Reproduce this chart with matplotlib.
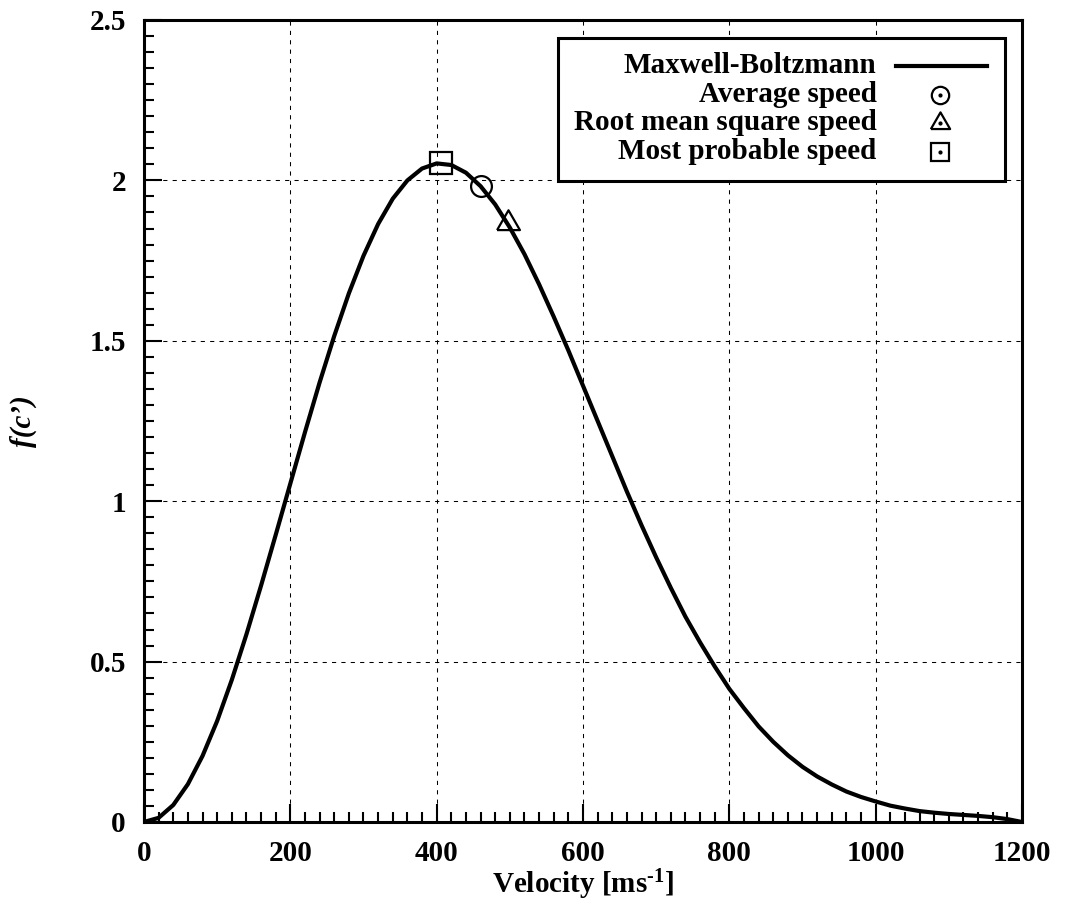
# Maxwell-Boltzmann speed distribution with characteristic speeds marked

import numpy as np
import matplotlib.pyplot as plt
from matplotlib.ticker import MultipleLocator, FuncFormatter
from matplotlib.patches import Rectangle
from matplotlib.lines import Line2D

plt.rcParams['font.family'] = ['Liberation Serif', 'DejaVu Serif']
plt.rcParams['font.weight'] = 'bold'
plt.rcParams['mathtext.fontset'] = 'custom'
plt.rcParams['mathtext.rm'] = 'Liberation Serif:bold'
plt.rcParams['mathtext.bf'] = 'Liberation Serif:bold'
plt.rcParams['mathtext.default'] = 'bf'

# curve (velocity in m/s, f(c') x 1e3)
velocity = [0, 20, 40, 60, 80, 100, 120, 140, 160, 180, 200, 220, 240, 260,
            280, 300, 320, 340, 360, 380, 400, 420, 440, 460, 480, 500, 520,
            540, 560, 580, 600, 620, 640, 660, 680, 700, 720, 740, 760, 780,
            800, 820, 840, 860, 880, 900, 920, 940, 960, 980, 1000, 1020,
            1040, 1060, 1080, 1100, 1120, 1140, 1160, 1180, 1200]
f_c = [0.0, 0.013, 0.053, 0.118, 0.206, 0.315, 0.443, 0.585, 0.737, 0.895,
       1.055, 1.215, 1.37, 1.515, 1.648, 1.765, 1.864, 1.943, 2.0, 2.037,
       2.053, 2.048, 2.024, 1.982, 1.925, 1.853, 1.77, 1.676, 1.575, 1.47,
       1.36, 1.25, 1.14, 1.03, 0.925, 0.825, 0.73, 0.64, 0.56, 0.485, 0.415,
       0.355, 0.298, 0.25, 0.208, 0.172, 0.142, 0.117, 0.095, 0.078, 0.064,
       0.051, 0.042, 0.034, 0.029, 0.025, 0.022, 0.019, 0.015, 0.009, 0.0]

# characteristic speeds
avg_speed = [460]
avg_f = [1.982]
rms_speed = [497]
rms_f = [1.868]
mp_speed = [406]
mp_f = [2.053]

fig = plt.figure(figsize=(10.65, 9.15), dpi=100)
ax = fig.add_axes([144 / 1065, 1 - 822 / 915, 878 / 1065, 802 / 915])

ax.plot(velocity, f_c, color='black', lw=3, zorder=3,
        solid_joinstyle='round', solid_capstyle='round')

tri = [(-1, -0.577), (1, -0.577), (0, 1.155), (-1, -0.577)]
mk = dict(color='black', mfc='none', mew=1.6, ls='none', zorder=4)
ax.plot(avg_speed, avg_f, marker='o', ms=15, **mk)
ax.plot(rms_speed, rms_f, marker=tri, ms=19, **mk)
ax.plot(mp_speed, mp_f, marker='s', ms=15.5, **mk)

ax.set_xlim(0, 1200)
ax.set_ylim(0, 2.5)
ax.xaxis.set_major_locator(MultipleLocator(200))
ax.xaxis.set_minor_locator(MultipleLocator(20))
ax.yaxis.set_major_locator(MultipleLocator(0.5))
ax.yaxis.set_minor_locator(MultipleLocator(0.05))
ax.yaxis.set_major_formatter(FuncFormatter(lambda v, p: '%g' % v))
ax.tick_params(which='major', direction='in', length=13, width=1.5,
               labelsize=21, pad=13, top=False, right=False)
ax.tick_params(which='minor', direction='in', length=7, width=1.5,
               top=False, right=False)
for s in ax.spines.values():
    s.set_linewidth(2.2)

ax.grid(True, which='major', color='black', lw=0.75, ls=(0, (4, 5)))
ax.set_axisbelow(True)

ax.set_xlabel('Velocity [ms$^{\\text{-1}}$]', fontsize=21, fontweight='bold', labelpad=0)
ax.set_ylabel('f(c\u2019)', fontsize=21, fontweight='bold', fontstyle='italic', labelpad=38)

# legend drawn by hand so labels are right-aligned like gnuplot
ax.add_patch(Rectangle((0.4715, 0.7996), 0.5091, 0.1784, transform=ax.transAxes,
                       facecolor='white', edgecolor='black', lw=2.2, zorder=5))
labels = ['Maxwell-Boltzmann', 'Average speed', 'Root mean square speed',
          'Most probable speed']
rows = [0.943, 0.9065, 0.8716, 0.8358]
for lab, yy in zip(labels, rows):
    ax.text(0.8345, yy, lab, transform=ax.transAxes, ha='right', va='center',
            fontsize=21, fontweight='bold', zorder=6)
ax.add_line(Line2D([0.857, 0.960], [rows[0], rows[0]], transform=ax.transAxes,
                   color='black', lw=3, zorder=6))
for m, ms, yy in [('o', 12.5, rows[1]), (tri, 16, rows[2]), ('s', 12.5, rows[3])]:
    ax.add_line(Line2D([0.9066], [yy], transform=ax.transAxes, marker=m, ms=ms,
                       mfc='none', mec='black', mew=1.6, ls='none', zorder=6))
    ax.add_line(Line2D([0.9066], [yy], transform=ax.transAxes, marker='o', ms=2,
                       color='black', ls='none', zorder=6))

fig.savefig('out.png', dpi=100)
